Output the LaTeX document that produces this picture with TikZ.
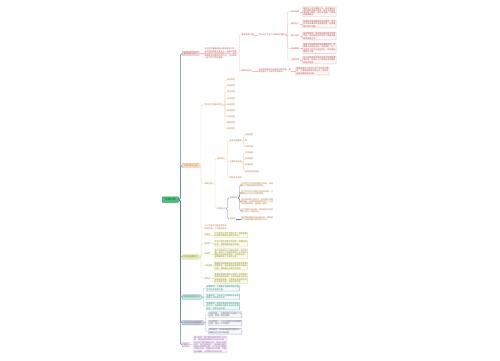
\documentclass[tikz,border=0pt]{standalone}
\usepackage{fontspec}
\setmainfont{Noto Sans CJK SC}
\usepackage{xcolor}
\usepackage{tikz}
\usetikzlibrary{positioning}
\XeTeXlinebreaklocale "zh"
\XeTeXlinebreakskip=0pt plus 1pt

\definecolor{spineblue}{HTML}{5B7FA7}
\definecolor{rootgreen}{HTML}{4CC27E}
\definecolor{rootink}{HTML}{1E5E37}
\definecolor{pinkfill}{HTML}{F5D9D9}
\definecolor{pinkdraw}{HTML}{E0A9A9}
\definecolor{pinkline}{HTML}{EDBDBD}
\definecolor{pinkink}{HTML}{B4504C}
\definecolor{pinkpbg}{HTML}{FFF8F8}
\definecolor{orangefill}{HTML}{F8E1C8}
\definecolor{orangedraw}{HTML}{E9BC8A}
\definecolor{orangeline}{HTML}{F1D3B1}
\definecolor{orangeink}{HTML}{B5773A}
\definecolor{olivefill}{HTML}{E7E9BA}
\definecolor{olivedraw}{HTML}{CBD07F}
\definecolor{oliveline}{HTML}{E3E6AE}
\definecolor{oliveink}{HTML}{87892F}
\definecolor{olivepbg}{HTML}{FCFCEB}
\definecolor{tealfill}{HTML}{C3E4DD}
\definecolor{tealdraw}{HTML}{62AE9F}
\definecolor{tealline}{HTML}{A3D3C8}
\definecolor{tealink}{HTML}{3A8A7A}
\definecolor{tealpbg}{HTML}{F3FAF8}
\definecolor{slatefill}{HTML}{CCD3DF}
\definecolor{slatedraw}{HTML}{8593AB}
\definecolor{slateline}{HTML}{ADB8CA}
\definecolor{slateink}{HTML}{52627B}
\definecolor{slatepbg}{HTML}{F6F8FB}
\definecolor{lilacfill}{HTML}{EADCEF}
\definecolor{lilacdraw}{HTML}{C3A2CE}
\definecolor{lilacline}{HTML}{D9C4E1}
\definecolor{lilacink}{HTML}{86569A}
\definecolor{lilacpbg}{HTML}{FCF8FD}

\tikzset{
  every node/.style={anchor=west,inner xsep=0.5pt,inner ysep=0.5pt,
    font=\fontsize{2}{2.25}\selectfont},
  rootbox/.style={fill=rootgreen,draw=rootgreen!80!black,text=rootink,
    rounded corners=0.6pt,inner xsep=3pt,minimum height=5.6pt,
    font=\fontsize{2.6}{3}\selectfont},
  topbox/.style={fill=#1fill,draw=#1draw,text=#1ink,rounded corners=0.6pt,
    inner xsep=1.5pt,minimum height=4.4pt},
  para/.style={text width=#1,align=left},
  para/.default=32pt,
  pbox/.style={draw=#1draw!70,fill=#1pbg,text=#1ink,rounded corners=0.4pt,
    inner sep=0.7pt},
  ln/.style={draw=#1line,line width=0.35pt,rounded corners=1.2pt},
  spine/.style={draw=spineblue,line width=0.5pt,rounded corners=1.5pt}
}

\begin{document}
\begin{tikzpicture}[x=1pt,y=-1pt]
\useasboundingbox[fill=white] (0,0) rectangle (500,360);

% root and main branches
\node[rootbox] (root) at (162,199.6) {思维导图};
\node[topbox=pink] (gainian) at (182,53.5) {基本概念与定义};
\node[topbox=orange] (neirong) at (182,165.5) {主要内容与分类};
\node[topbox=olive] (tedian) at (182,257) {特点与重要意义};
\node[topbox=teal] (lilun) at (182,297) {相关理论研究方法};
\node[topbox=slate] (yingyong) at (182,322.7) {实际应用与发展趋势};
\node[topbox=lilac] (zongjie) at (182,344.7) {总结};
\draw[spine] (root.east) -- ++(1.6,0) |- (gainian.west);
\draw[spine] (root.east) -- ++(1.6,0) |- (neirong.west);
\draw[spine] (root.east) -- ++(1.6,0) |- (tedian.west);
\draw[spine] (root.east) -- ++(1.6,0) |- (lilun.west);
\draw[spine] (root.east) -- ++(1.6,0) |- (yingyong.west);
\draw[spine] (root.east) -- ++(1.6,0) |- (zongjie.west);

% 基本概念
\node[para,text=pinkink] (gn) at (204,53.5) {本主题主要围绕核心概念展开讨论，从不同的角度对其含义、来源以及发展过程进行系统的梳理与分析，帮助读者建立起整体性的认识，为后续深入学习打下良好基础。};
\draw[ln=pink] (gainian.east) -- (gn.west);
\node[text=pinkink] (nh) at (241,35) {概念基本内涵};
\node[text=pinkink] (wy) at (241,71) {概念的外延};
\draw[ln=pink] (gn.east) -- ++(1.8,0) |- (nh.west);
\draw[ln=pink] (gn.east) -- ++(1.8,0) |- (wy.west);
\node[text=pinkink] (nh0) at (258,35) {可以从以下五个方面加以理解};
\draw[ln=pink] (nh.east) -- (nh0.west);
\node[text=pinkink] (ly) at (290.5,11.7) {历史来源};
\node[text=pinkink] (hy) at (290.5,24) {基本含义};
\node[text=pinkink] (tz) at (290.5,36) {核心特征};
\node[text=pinkink] (ys) at (290.5,48.3) {构成要素};
\node[text=pinkink] (zy) at (290.5,60) {主要作用};
\draw[ln=pink] (nh0.east) -- ++(1.8,0) |- (ly.west);
\draw[ln=pink] (nh0.east) -- ++(1.8,0) |- (hy.west);
\draw[ln=pink] (nh0.east) -- ++(1.8,0) |- (tz.west);
\draw[ln=pink] (nh0.east) -- ++(1.8,0) |- (ys.west);
\draw[ln=pink] (nh0.east) -- ++(1.8,0) |- (zy.west);
\node[para,pbox=pink] (lyp) at (302.5,11.7) {最早见于古代典籍之中，经过漫长历史时期的发展与演变，其含义逐渐丰富并趋于稳定，成为今天被广泛使用的重要概念。};
\node[para,pbox=pink] (hyp) at (302.5,24) {指事物本身所具有的根本属性，是区别于其他事物的本质规定性，也是理解问题的关键。};
\node[para,pbox=pink] (tzp) at (302.5,36) {具有整体性、层次性和相对稳定性等特征，这些特征共同决定了其基本面貌和发展方向。};
\node[para,pbox=pink] (ysp) at (302.5,48.3) {由若干相互联系的基本要素构成，各要素之间相互依存、相互制约，在一定条件下还可以相互转化，共同维持整体的平衡。};
\node[para,pbox=pink] (zyp) at (302.5,60) {在认识和改造世界的过程中发挥着重要作用，能够为人们的实践活动提供有益的指导。};
\draw[ln=pink] (ly.east) -- (lyp.west);
\draw[ln=pink] (hy.east) -- (hyp.west);
\draw[ln=pink] (tz.east) -- (tzp.west);
\draw[ln=pink] (ys.east) -- (ysp.west);
\draw[ln=pink] (zy.east) -- (zyp.west);
\node[para,text=pinkink] (wyp) at (258,71) {外延是指概念所反映的对象范围，具体包括以下几种不同的情况：};
\node[para,pbox=pink] (wyq) at (295.5,71) {按照范围大小可以分为广义与狭义两类，二者既有联系又有区别，应结合具体的情境加以判断。};
\draw[ln=pink] (wy.east) -- (wyp.west);
\draw[ln=pink] (wyp.east) -- (wyq.west);

% 主要内容
\node[text=orangeink] (lx) at (204,105) {常见的几种基本类型};
\node[text=orangeink] (jt) at (204,183.3) {具体内容};
\node[para=24pt,text=orangeink] (bc) at (204,227.3) {以上各部分内容相互联系，共同构成一个完整的体系。};
\draw[ln=orange] (neirong.east) -- ++(1.6,0) |- (lx.west);
\draw[ln=orange] (neirong.east) -- ++(1.6,0) |- (jt.west);
\draw[ln=orange] (neirong.east) -- ++(1.6,0) |- (bc.west);
\node[text=orangeink] (lx1) at (226.5,80) {自然类型};
\node[text=orangeink] (lx2) at (226.5,86.1) {社会类型};
\node[text=orangeink] (lx3) at (226.5,92.2) {经济类型};
\node[text=orangeink] (lx4) at (226.5,98.3) {文化类型};
\node[text=orangeink] (lx5) at (226.5,104.4) {科技类型};
\node[text=orangeink] (lx6) at (226.5,110.5) {政治类型};
\node[text=orangeink] (lx7) at (226.5,116.6) {生态类型};
\node[text=orangeink] (lx8) at (226.5,122.7) {教育类型};
\node[text=orangeink] (lx9) at (226.5,128.8) {综合类型};
\draw[ln=orange] (lx.east) -- ++(1.6,0) |- (lx1.west);
\draw[ln=orange] (lx.east) -- ++(1.6,0) |- (lx2.west);
\draw[ln=orange] (lx.east) -- ++(1.6,0) |- (lx3.west);
\draw[ln=orange] (lx.east) -- ++(1.6,0) |- (lx4.west);
\draw[ln=orange] (lx.east) -- ++(1.6,0) |- (lx5.west);
\draw[ln=orange] (lx.east) -- ++(1.6,0) |- (lx6.west);
\draw[ln=orange] (lx.east) -- ++(1.6,0) |- (lx7.west);
\draw[ln=orange] (lx.east) -- ++(1.6,0) |- (lx8.west);
\draw[ln=orange] (lx.east) -- ++(1.6,0) |- (lx9.west);
\node[text=orangeink] (zc) at (216.5,159) {组成部分};
\node[text=orangeink] (bx) at (216.5,208.5) {表现形式};
\draw[ln=orange] (jt.east) -- ++(1.6,0) |- (zc.west);
\draw[ln=orange] (jt.east) -- ++(1.6,0) |- (bx.west);
\node[text=orangeink] (zc1) at (229,141) {基本组成要素};
\node[text=orangeink] (zc2) at (229,162) {主要影响因素};
\node[text=orangeink] (zc3) at (229,177.3) {其他补充说明};
\draw[ln=orange] (zc.east) -- ++(1.6,0) |- (zc1.west);
\draw[ln=orange] (zc.east) -- ++(1.6,0) |- (zc2.west);
\draw[ln=orange] (zc.east) -- ++(1.6,0) |- (zc3.west);
\node[text=orangeink] (zc11) at (244.5,134.7) {内部结构};
\node[text=orangeink] (zc12) at (244.5,141) {等};
\node[text=orangeink] (zc13) at (244.5,147) {外部环境};
\draw[ln=orange] (zc1.east) -- ++(1.2,0) |- (zc11.west);
\draw[ln=orange] (zc1.east) -- ++(1.2,0) |- (zc12.west);
\draw[ln=orange] (zc1.east) -- ++(1.2,0) |- (zc13.west);
\node[text=orangeink] (zc21) at (244.5,153) {主观因素};
\node[text=orangeink] (zc22) at (244.5,159) {客观因素};
\node[text=orangeink] (zc23) at (244.5,165) {环境因素};
\node[text=orangeink] (zc24) at (244.5,171.3) {其他相关的因素};
\draw[ln=orange] (zc2.east) -- ++(1.2,0) |- (zc21.west);
\draw[ln=orange] (zc2.east) -- ++(1.2,0) |- (zc22.west);
\draw[ln=orange] (zc2.east) -- ++(1.2,0) |- (zc23.west);
\draw[ln=orange] (zc2.east) -- ++(1.2,0) |- (zc24.west);
% 表现形式 in blue
\node[text=orangeink] (zj) at (229,197.7) {直接表现};
\node[text=orangeink] (jj) at (229,219) {间接型};
\draw[spine,line width=0.35pt] (bx.east) -- ++(1.6,0) |- (zj.west);
\draw[spine,line width=0.35pt] (bx.east) -- ++(1.6,0) |- (jj.west);
\node[para,text=orangeink] (zj1) at (240.5,184.7) {在日常生活中表现得较为明显，容易被人们直接观察和感知到。};
\node[para,text=orangeink] (zj2) at (240.5,192.5) {在工作与学习过程中也有所体现，主要集中于方法与态度层面。};
\node[para,text=orangeink] (zj3) at (240.5,202) {在社会层面上表现为一系列相互关联的现象，这些现象共同构成了一个较为完整的体系，值得深入研究。};
\node[para,text=orangeink] (zj4) at (240.5,210.7) {在不同的历史时期，其表现形式也会随之发生一定的变化。};
\draw[spine,line width=0.35pt] (zj.east) -- ++(1.3,0) |- (zj1.west);
\draw[spine,line width=0.35pt] (zj.east) -- ++(1.3,0) |- (zj2.west);
\draw[spine,line width=0.35pt] (zj.east) -- ++(1.3,0) |- (zj3.west);
\draw[spine,line width=0.35pt] (zj.east) -- ++(1.3,0) |- (zj4.west);
\node[para,text=orangeink] (jj1) at (240.5,219) {通过其他事物间接反映出来，需要经过分析和推理才能够加以认识。};
\draw[spine,line width=0.35pt] (jj.east) -- (jj1.west);

% 特点
\node[text=oliveink] (td1) at (204,235) {普遍性};
\node[text=oliveink] (td2) at (204,243.3) {客观性};
\node[text=oliveink] (td3) at (204,253.7) {系统性};
\node[text=oliveink] (td4) at (204,266) {可发展性};
\node[text=oliveink] (td5) at (204,278.3) {实践性};
\draw[ln=olive] (tedian.east) -- ++(1.6,0) |- (td1.west);
\draw[ln=olive] (tedian.east) -- ++(1.6,0) |- (td2.west);
\draw[ln=olive] (tedian.east) -- ++(1.6,0) |- (td3.west);
\draw[ln=olive] (tedian.east) -- ++(1.6,0) |- (td4.west);
\draw[ln=olive] (tedian.east) -- ++(1.6,0) |- (td5.west);
\node[para,pbox=olive] (tdp1) at (214,235) {广泛存在于各个领域之中，具有普遍的适用范围和较强的代表性。};
\node[para,pbox=olive] (tdp2) at (214,243.3) {不以人的主观意志为转移，是客观存在的，需要尊重其基本规律。};
\node[para,pbox=olive] (tdp3) at (214,253.7) {各个组成部分之间相互联系、相互作用，形成一个有机的整体；在分析问题时应坚持系统观念，从整体出发，统筹兼顾各个方面的关系。};
\node[para,pbox=olive] (tdp4) at (214,266) {随着时间的推移和条件的变化而不断发展变化，因此要用发展的眼光看待问题，避免静止和孤立的观点。};
\node[para,pbox=olive] (tdp5) at (214,278.3) {来源于实践又服务于实践，在实践中得到检验和发展；只有将理论与实践紧密结合起来，才能真正发挥其应有的作用和价值，推动社会进步。};
\draw[ln=olive] (td1.east) -- (tdp1.west);
\draw[ln=olive] (td2.east) -- (tdp2.west);
\draw[ln=olive] (td3.east) -- (tdp3.west);
\draw[ln=olive] (td4.east) -- (tdp4.west);
\draw[ln=olive] (td5.east) -- (tdp5.west);

% 理论研究
\node[para,pbox=teal] (ll1) at (206,288.3) {早期研究：主要集中在概念界定与基本特征的描述方面。};
\node[para,pbox=teal] (ll2) at (206,296.7) {中期研究：开始关注内部结构以及各要素之间的相互关系。};
\node[para,pbox=teal] (ll3) at (206,306) {近期研究：更加注重跨学科的综合研究方法，强调理论创新与实证分析相结合，成果日益丰富。};
\draw[ln=teal] (lilun.east) -- ++(1.8,0) |- (ll1.west);
\draw[ln=teal] (lilun.east) -- ++(1.8,0) |- (ll2.west);
\draw[ln=teal] (lilun.east) -- ++(1.8,0) |- (ll3.west);

% 应用
\node[para,pbox=slate] (yy1) at (208.3,314.7) {应用领域一：在教育教学中得到广泛应用，取得了良好效果。};
\node[para,pbox=slate] (yy2) at (208.3,323) {应用领域二：在企业管理中发挥重要作用，提升了工作效率。};
\node[para,pbox=slate] (yy3) at (208.3,331.3) {发展趋势：未来将朝着更加智能化、精细化的方向不断发展。};
\draw[ln=slate] (yingyong.east) -- ++(1.8,0) |- (yy1.west);
\draw[ln=slate] (yingyong.east) -- ++(1.8,0) |- (yy2.west);
\draw[ln=slate] (yingyong.east) -- ++(1.8,0) |- (yy3.west);

% 总结
\node[para,pbox=lilac] (zj0) at (193.3,344.5) {综上所述，该主题涉及的内容十分丰富，既包括基本概念的内涵与外延，也包括主要内容的分类、组成与表现形式，还涉及其特点、相关理论研究和实际应用等方面。学习时应注重理论联系实际，把握其内在规律，不断加深理解，从而更好地指导实践。};
\draw[ln=lilac] (zongjie.east) -- (zj0.west);
\end{tikzpicture}
\end{document}
